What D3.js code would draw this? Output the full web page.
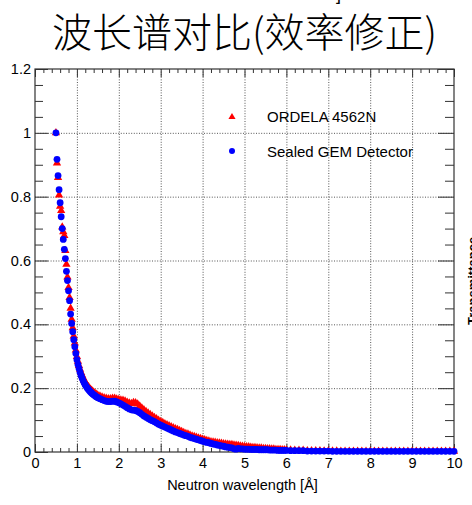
<!DOCTYPE html>
<html>
<head>
<meta charset="utf-8">
<script src="https://cdn.jsdelivr.net/npm/d3@7/dist/d3.min.js"></script>
<style>
  html, body { margin: 0; padding: 0; background: #fff; }
  svg { display: block; }
  text { font-family: "Liberation Sans", Arial, Helvetica, sans-serif; }
</style>
</head>
<body>
<svg id="chart" width="472" height="505"></svg>
<script>
// Wavelength bins [Å]
const wavelength = [
  0.500,0.525,0.550,0.575,0.600,0.625,0.650,0.675,0.700,0.725,
  0.750,0.775,0.800,0.825,0.850,0.875,0.900,0.925,0.950,0.975,
  1.000,1.025,1.050,1.075,1.100,1.125,1.150,1.175,1.200,1.225,
  1.250,1.275,1.300,1.325,1.350,1.375,1.400,1.425,1.450,1.475,
  1.50,1.55,1.60,1.65,1.70,1.75,1.80,1.85,1.90,1.95,
  2.00,2.05,2.10,2.15,2.20,2.25,2.30,2.35,2.40,2.45,
  2.50,2.55,2.60,2.65,2.70,2.75,2.80,2.85,2.90,2.95,
  3.00,3.05,3.10,3.15,3.20,3.25,3.30,3.35,3.40,3.45,
  3.50,3.55,3.60,3.65,3.70,3.75,3.80,3.85,3.90,3.95,
  4.00,4.05,4.10,4.15,4.20,4.25,4.30,4.35,4.40,4.45,
  4.50,4.55,4.60,4.65,4.70,4.75,4.80,4.85,4.90,4.95,
  5.00,5.05,5.10,5.15,5.20,5.25,5.30,5.35,5.40,5.45,
  5.50,5.55,5.60,5.65,5.70,5.75,5.80,5.85,5.90,5.95,
  6.0,6.1,6.2,6.3,6.4,6.5,6.6,6.7,6.8,6.9,
  7.0,7.1,7.2,7.3,7.4,7.5,7.6,7.7,7.8,7.9,
  8.0,8.1,8.2,8.3,8.4,8.5,8.6,8.7,8.8,8.9,
  9.0,9.1,9.2,9.3,9.4,9.5,9.6,9.7,9.8,9.9,
  10.0
];

// ORDELA 4562N, efficiency corrected, normalised
const ordela = [
  1.000,0.905,0.860,0.805,0.770,0.756,0.705,0.690,0.678,0.631,
  0.588,0.548,0.515,0.484,0.450,0.416,0.389,0.363,0.341,0.319,
  0.299,0.284,0.271,0.259,0.249,0.240,0.232,0.225,0.219,0.213,
  0.208,0.204,0.200,0.196,0.193,0.190,0.187,0.184,0.182,0.180,
  0.178,0.175,0.172,0.170,0.168,0.167,0.167,0.168,0.168,0.166,
  0.164,0.163,0.162,0.160,0.156,0.153,0.152,0.155,0.154,0.150,
  0.144,0.138,0.132,0.127,0.122,0.117,0.113,0.108,0.104,0.099,
  0.095,0.092,0.088,0.085,0.082,0.079,0.076,0.073,0.070,0.067,
  0.064,0.061,0.058,0.056,0.053,0.050,0.048,0.046,0.044,0.042,
  0.040,0.038,0.036,0.034,0.032,0.031,0.030,0.029,0.028,0.027,
  0.026,0.025,0.024,0.023,0.023,0.022,0.021,0.020,0.019,0.018,
  0.017,0.016,0.016,0.015,0.014,0.014,0.013,0.012,0.012,0.011,
  0.011,0.010,0.010,0.009,0.009,0.008,0.008,0.008,0.007,0.007,
  0.006,0.006,0.005,0.005,0.005,0.004,0.004,0.004,0.004,0.003,
  0.003,0.003,0.003,0.002,0.002,0.002,0.002,0.002,0.002,0.002,
  0.002,0.002,0.002,0.002,0.002,0.002,0.002,0.002,0.002,0.002,
  0.002,0.002,0.002,0.002,0.002,0.002,0.002,0.002,0.002,0.002,
  0.002
];

// Sealed GEM detector, efficiency corrected, normalised
const gem = [
  1.000,0.917,0.866,0.822,0.781,0.737,0.700,0.666,0.635,0.606,
  0.566,0.537,0.505,0.474,0.432,0.403,0.377,0.352,0.330,0.309,
  0.289,0.274,0.262,0.250,0.240,0.231,0.223,0.216,0.210,0.205,
  0.200,0.196,0.192,0.188,0.185,0.182,0.179,0.177,0.174,0.172,
  0.170,0.167,0.164,0.161,0.159,0.158,0.158,0.159,0.159,0.157,
  0.154,0.151,0.147,0.143,0.139,0.135,0.132,0.131,0.130,0.127,
  0.123,0.118,0.113,0.109,0.105,0.101,0.098,0.095,0.091,0.087,
  0.084,0.081,0.078,0.075,0.072,0.069,0.066,0.063,0.061,0.058,
  0.056,0.053,0.051,0.049,0.046,0.044,0.042,0.040,0.038,0.036,
  0.034,0.032,0.030,0.029,0.027,0.025,0.024,0.022,0.021,0.019,
  0.018,0.016,0.015,0.014,0.013,0.010,0.009,0.011,0.010,0.010,
  0.009,0.009,0.009,0.008,0.008,0.008,0.008,0.007,0.007,0.007,
  0.007,0.007,0.006,0.006,0.006,0.006,0.005,0.005,0.005,0.005,
  0.005,0.004,0.004,0.004,0.004,0.003,0.003,0.003,0.003,0.003,
  0.003,0.002,0.002,0.002,0.002,0.002,0.002,0.002,0.002,0.002,
  0.002,0.002,0.002,0.002,0.002,0.002,0.002,0.002,0.002,0.002,
  0.002,0.002,0.002,0.002,0.002,0.002,0.002,0.002,0.002,0.002,
  0.002
];

const seriesNames = ["ORDELA 4562N", "Sealed GEM Detector"];
const seriesColors = ["#ff0000", "#0000ff"];
const xTicks = [0,1,2,3,4,5,6,7,8,9,10];
const yTicks = [0,0.2,0.4,0.6,0.8,1,1.2];
const titleText = "波长谱对比(效率修正)";
const xLabel = "Neutron wavelength [Å]";

const svg = d3.select("#chart");
const pLeft = 35, pRight = 454, pTop = 69, pBottom = 452;

const x = d3.scaleLinear().domain([0, 10]).range([pLeft, pRight]);
const y = d3.scaleLinear().domain([0, 1.2]).range([pBottom, pTop]);

const axisColor = "#333";

// Title
svg.append("text")
  .attr("x", (pLeft + pRight) / 2).attr("y", 47)
  .attr("text-anchor", "middle")
  .style("font-family", '"Noto Sans CJK SC", sans-serif')
  .style("font-weight", 300)
  .style("font-size", "40px")
  .attr("fill", "#000")
  .text(titleText);

// Grid (dotted)
const grid = svg.append("g").attr("stroke", "#555").attr("stroke-dasharray", "1,1.6").attr("stroke-width", 1);
grid.selectAll("line.gx").data(xTicks.slice(1, -1)).join("line")
  .attr("x1", d => x(d) + 0.5).attr("x2", d => x(d) + 0.5)
  .attr("y1", pTop).attr("y2", pBottom);
grid.selectAll("line.gy").data(yTicks.slice(1, -1)).join("line")
  .attr("y1", d => y(d) + 0.5).attr("y2", d => y(d) + 0.5)
  .attr("x1", pLeft).attr("x2", pRight);

// Minor tick positions
const xMinor = d3.range(0, 10.001, 0.2).filter(v => Math.abs(v - Math.round(v)) > 1e-6);
const yMinor = d3.range(0, 1.2001, 0.05).filter(v => Math.abs(v / 0.2 - Math.round(v / 0.2)) > 1e-6);

function styleAxis(g) {
  g.select(".domain").remove();
  g.selectAll(".tick line").attr("stroke", axisColor);
  g.selectAll(".tick text").attr("fill", "#000").style("font-size", "14.5px")
    .style("font-family", '"Liberation Sans", Arial, sans-serif');
}

// Bottom axis with labels
svg.append("g").attr("transform", `translate(0,${pBottom})`)
  .call(d3.axisBottom(x).tickValues(xTicks).tickFormat(d3.format("d")).tickSize(-8).tickPadding(4))
  .call(styleAxis)
  .call(g => g.selectAll(".tick text").attr("dy", "0.71em").attr("y", 6));
svg.append("g").attr("transform", `translate(0,${pBottom})`)
  .call(d3.axisBottom(x).tickValues(xMinor).tickFormat("").tickSize(-4))
  .call(styleAxis);

// Top axis ticks
svg.append("g").attr("transform", `translate(0,${pTop})`)
  .call(d3.axisTop(x).tickValues(xTicks).tickFormat("").tickSize(-8))
  .call(styleAxis);
svg.append("g").attr("transform", `translate(0,${pTop})`)
  .call(d3.axisTop(x).tickValues(xMinor).tickFormat("").tickSize(-4))
  .call(styleAxis);

// Left axis with labels
svg.append("g").attr("transform", `translate(${pLeft},0)`)
  .call(d3.axisLeft(y).tickValues(yTicks).tickFormat(d => d === 0 ? "0" : (d === 1 ? "1" : d3.format(".1f")(d))).tickSize(-13).tickPadding(4))
  .call(styleAxis);
svg.append("g").attr("transform", `translate(${pLeft},0)`)
  .call(d3.axisLeft(y).tickValues(yMinor).tickFormat("").tickSize(-8))
  .call(styleAxis);

// Right axis ticks
svg.append("g").attr("transform", `translate(${pRight},0)`)
  .call(d3.axisRight(y).tickValues(yTicks).tickFormat("").tickSize(-16))
  .call(styleAxis);
svg.append("g").attr("transform", `translate(${pRight},0)`)
  .call(d3.axisRight(y).tickValues(yMinor).tickFormat("").tickSize(-9))
  .call(styleAxis);

// Frame
svg.append("rect")
  .attr("x", pLeft).attr("y", pTop)
  .attr("width", pRight - pLeft).attr("height", pBottom - pTop)
  .attr("fill", "none").attr("stroke", axisColor).attr("stroke-width", 1.2);

// Data points
const triangle = d3.symbol().type(d3.symbolTriangle).size(30);
const plot = svg.append("g");
plot.append("g").selectAll("path").data(wavelength.map((w, i) => [w, ordela[i]])).join("path")
  .attr("d", triangle)
  .attr("transform", d => `translate(${x(d[0])},${y(d[1])})`)
  .attr("fill", seriesColors[0]);
plot.append("g").selectAll("circle").data(wavelength.map((w, i) => [w, gem[i]])).join("circle")
  .attr("cx", d => x(d[0])).attr("cy", d => y(d[1])).attr("r", 3.4)
  .attr("fill", seriesColors[1]);

// Legend
const legend = svg.append("g");
legend.append("path").attr("d", d3.symbol().type(d3.symbolTriangle).size(22)).attr("transform", "translate(232,117)").attr("fill", seriesColors[0]);
legend.append("circle").attr("cx", 232).attr("cy", 151).attr("r", 3).attr("fill", seriesColors[1]);
legend.selectAll("text").data(seriesNames).join("text")
  .attr("x", 267).attr("y", (d, i) => 122 + i * 34.5)
  .style("font-size", "15px").attr("fill", "#000")
  .text(d => d);

// X axis title
svg.append("text")
  .attr("x", (pLeft + pRight) / 2 - 2).attr("y", 490)
  .attr("text-anchor", "middle")
  .style("font-size", "14.5px").attr("fill", "#000")
  .text(xLabel);

// Neighbouring panel text cut by the edge
svg.append("text")
  .attr("transform", "translate(477,325) rotate(-90)")
  .style("font-size", "13px").style("font-weight", "bold").attr("fill", "#000")
  .text("Transmittance");
svg.append("text").attr("x", 336).attr("y", 0).style("font-size", "18px").attr("fill", "#000").text("]");
</script>
</body>
</html>
